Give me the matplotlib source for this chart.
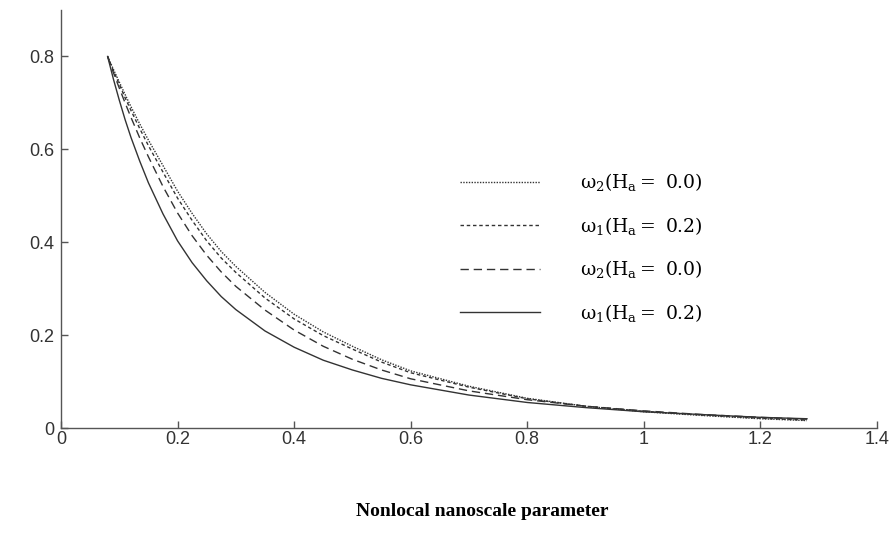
import matplotlib
matplotlib.use("Agg")
from matplotlib import pyplot as plt

plt.rcParams["mathtext.fontset"] = "custom"
plt.rcParams["mathtext.rm"] = "DejaVu Serif"
plt.rcParams["mathtext.it"] = "DejaVu Serif"
plt.rcParams["mathtext.bf"] = "DejaVu Serif:bold"

line_color = "#333333"

x = [0.08, 0.09, 0.10, 0.11, 0.12, 0.135, 0.15, 0.175, 0.20, 0.225, 0.25,
     0.275, 0.30, 0.35, 0.40, 0.45, 0.50, 0.55, 0.60, 0.70, 0.80, 0.90,
     1.00, 1.10, 1.20, 1.28]

# w2, Ha = 0.0 (dotted)
w2_a = [0.800, 0.772, 0.745, 0.718, 0.692, 0.655, 0.620, 0.565, 0.510, 0.462,
        0.418, 0.380, 0.348, 0.292, 0.245, 0.207, 0.176, 0.147, 0.123, 0.090,
        0.064, 0.047, 0.035, 0.027, 0.020, 0.016]
# w1, Ha = 0.2 (short dash)
w1_a = [0.800, 0.769, 0.740, 0.711, 0.684, 0.645, 0.608, 0.551, 0.495, 0.447,
        0.403, 0.366, 0.335, 0.280, 0.235, 0.199, 0.170, 0.142, 0.119, 0.088,
        0.063, 0.047, 0.036, 0.028, 0.021, 0.017]
# w2, Ha = 0.0 (dash)
w2_b = [0.800, 0.765, 0.732, 0.700, 0.669, 0.625, 0.584, 0.520, 0.463, 0.414,
        0.372, 0.336, 0.305, 0.254, 0.211, 0.176, 0.148, 0.125, 0.106, 0.080,
        0.061, 0.047, 0.037, 0.029, 0.023, 0.019]
# w1, Ha = 0.2 (solid)
w1_b = [0.800, 0.751, 0.706, 0.664, 0.626, 0.575, 0.528, 0.461, 0.403, 0.356,
        0.317, 0.283, 0.255, 0.209, 0.174, 0.146, 0.125, 0.107, 0.093, 0.071,
        0.055, 0.044, 0.035, 0.029, 0.023, 0.020]

labels = [r"$\omega_2(\mathrm{H_a} =\ 0.0)$",
          r"$\omega_1(\mathrm{H_a} =\ 0.2)$",
          r"$\omega_2(\mathrm{H_a} =\ 0.0)$",
          r"$\omega_1(\mathrm{H_a} =\ 0.2)$"]

fig = plt.figure(figsize=(8.93, 5.47), dpi=100)
ax = fig.add_axes([0.0683, 0.2175, 0.9137, 0.7642])

ax.plot(x, w2_a, color=line_color, lw=1.0, linestyle=(0, (1, 1)), label=labels[0])
ax.plot(x, w1_a, color=line_color, lw=1.0, linestyle=(0, (2.5, 2)), label=labels[1])
ax.plot(x, w2_b, color=line_color, lw=1.0, linestyle=(0, (6, 3.5)), label=labels[2])
ax.plot(x, w1_b, color=line_color, lw=1.0, linestyle="-", label=labels[3])

ax.set_xlim(0, 1.4)
ax.set_ylim(0, 0.9)
ax.set_xticks([0, 0.2, 0.4, 0.6, 0.8, 1.0, 1.2, 1.4])
ax.set_xticklabels(["0", "0.2", "0.4", "0.6", "0.8", "1", "1.2", "1.4"])
ax.set_yticks([0, 0.2, 0.4, 0.6, 0.8])
ax.set_yticklabels(["0", "0.2", "0.4", "0.6", "0.8"])
ax.tick_params(direction="in", length=5, width=1, colors="#555555",
               labelcolor="#333333", labelsize=13)
ax.tick_params(axis="x", pad=2)
ax.tick_params(axis="y", pad=5)
for lab in ax.get_xticklabels() + ax.get_yticklabels():
    lab.set_family("Liberation Sans")
ax.spines["top"].set_visible(False)
ax.spines["right"].set_visible(False)
for s in ("left", "bottom"):
    ax.spines[s].set_color("#555555")
    ax.spines[s].set_linewidth(1.0)

ax.legend(loc="center left", bbox_to_anchor=(443 / 893, 1 - 247.5 / 547),
          bbox_transform=fig.transFigure, frameon=False,
          fontsize=13.5, handlelength=4.27, handletextpad=2.13, labelspacing=1.15)

fig.text(482 / 893, 1 - 512 / 547, "Nonlocal nanoscale parameter",
         ha="center", va="center", family="Liberation Serif",
         fontweight="bold", fontsize=14)

fig.savefig("out.png", dpi=100)
